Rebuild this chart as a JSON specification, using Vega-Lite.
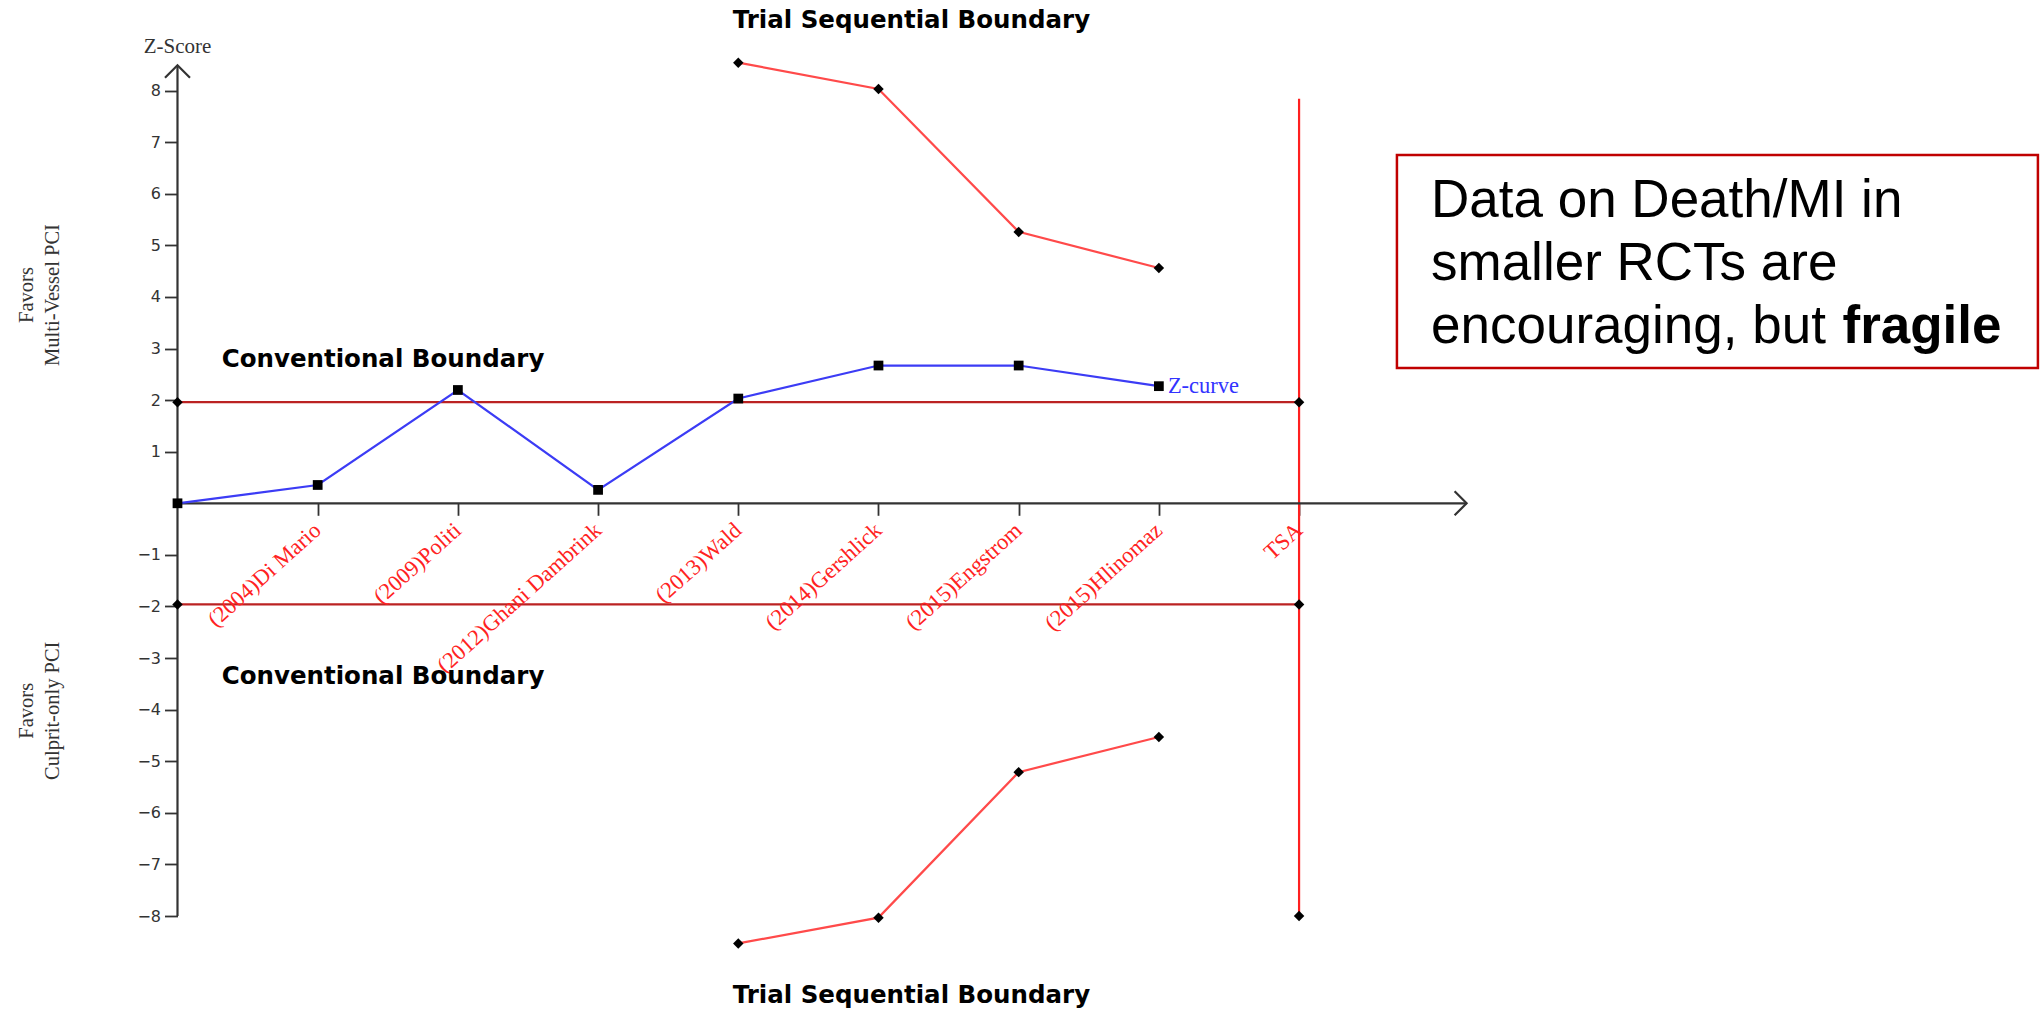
{
  "$schema": "https://vega.github.io/schema/vega-lite/v6.json",
  "width": 2041,
  "height": 1010,
  "autosize": {"type": "none"},
  "padding": 0,
  "background": "white",
  "config": {"view": {"stroke": null}},
  "datasets": {
    "zcurve": [
      {"idx": 0, "z": 0},
      {"idx": 1, "z": 0.355},
      {"idx": 2, "z": 2.196},
      {"idx": 3, "z": 0.26},
      {"idx": 4, "z": 2.03},
      {"idx": 5, "z": 2.67},
      {"idx": 6, "z": 2.67},
      {"idx": 7, "z": 2.27}
    ],
    "studies": [
      {"idx": 1, "study": "(2004)Di Mario"},
      {"idx": 2, "study": "(2009)Politi"},
      {"idx": 3, "study": "(2012)Ghani Dambrink"},
      {"idx": 4, "study": "(2013)Wald"},
      {"idx": 5, "study": "(2014)Gershlick"},
      {"idx": 6, "study": "(2015)Engstrom"},
      {"idx": 7, "study": "(2015)Hlinomaz"},
      {"idx": 8, "study": "TSA"}
    ],
    "conventional": [
      {"idx": 0, "z": 1.96, "bound": "upper"},
      {"idx": 8, "z": 1.96, "bound": "upper"},
      {"idx": 0, "z": -1.96, "bound": "lower"},
      {"idx": 8, "z": -1.96, "bound": "lower"}
    ],
    "tsb": [
      {"idx": 4, "z": 8.54, "bound": "upper"},
      {"idx": 5, "z": 8.03, "bound": "upper"},
      {"idx": 6, "z": 5.26, "bound": "upper"},
      {"idx": 7, "z": 4.56, "bound": "upper"},
      {"idx": 4, "z": -8.53, "bound": "lower"},
      {"idx": 5, "z": -8.03, "bound": "lower"},
      {"idx": 6, "z": -5.21, "bound": "lower"},
      {"idx": 7, "z": -4.53, "bound": "lower"}
    ],
    "tsa": [
      {"idx": 8, "z": -8, "z2": 7.84}
    ],
    "one": [{"n": 1}]
  },
  "layer": [
    {
      "data": {"name": "conventional"},
      "mark": {"type": "line", "color": "#bb2222", "strokeWidth": 2.2},
      "encoding": {
        "x": {
          "field": "idx", "type": "quantitative",
          "scale": {"domain": [-1.266, 13.292], "nice": false, "zero": false},
          "axis": {
            "values": [1, 2, 3, 4, 5, 6, 7, 8],
            "labels": false, "domain": false, "grid": false, "title": null,
            "tickSize": 12, "tickColor": "#333333", "tickWidth": 1.8,
            "offset": -506.7
          }
        },
        "y": {
          "field": "z", "type": "quantitative",
          "scale": {"domain": [-9.82, 9.754], "nice": false, "zero": false},
          "axis": {
            "values": [-8, -7, -6, -5, -4, -3, -2, -1, 1, 2, 3, 4, 5, 6, 7, 8],
            "domain": false, "grid": false, "title": null,
            "tickSize": 13, "tickColor": "#333333", "tickWidth": 1.8,
            "labelFont": "DejaVu Sans", "labelFontSize": 16, "labelColor": "#333333",
            "labelPadding": 4,
            "offset": -177.5
          }
        },
        "detail": {"field": "bound"}
      }
    },
    {
      "data": {"name": "tsb"},
      "mark": {"type": "line", "color": "#ff4a4a", "strokeWidth": 2.2},
      "encoding": {
        "x": {"field": "idx", "type": "quantitative"},
        "y": {"field": "z", "type": "quantitative"},
        "detail": {"field": "bound"}
      }
    },
    {
      "data": {"name": "tsa"},
      "mark": {"type": "rule", "color": "#ff1f1f", "strokeWidth": 2.2},
      "encoding": {
        "x": {"field": "idx", "type": "quantitative"},
        "y": {"field": "z", "type": "quantitative"},
        "y2": {"field": "z2"}
      }
    },
    {
      "data": {"name": "one"},
      "mark": {"type": "rule", "color": "#333333", "strokeWidth": 2.2},
      "encoding": {
        "x": {"datum": 0, "type": "quantitative"},
        "y": {"datum": -8, "type": "quantitative"},
        "y2": {"datum": 8.49}
      }
    },
    {
      "data": {"name": "one"},
      "mark": {"type": "rule", "color": "#333333", "strokeWidth": 2.2},
      "encoding": {
        "x": {"datum": 0, "type": "quantitative"},
        "x2": {"datum": 9.195},
        "y": {"datum": 0, "type": "quantitative"}
      }
    },
    {
      "data": {"name": "one"},
      "mark": {"type": "point", "shape": "M-1,1L0,0L1,1", "size": 625, "filled": false, "color": "#333333", "strokeWidth": 2.2, "opacity": 1},
      "encoding": {
        "x": {"datum": 0, "type": "quantitative"},
        "y": {"datum": 8.49, "type": "quantitative"}
      }
    },
    {
      "data": {"name": "one"},
      "mark": {"type": "point", "shape": "M-1,-1L0,0L-1,1", "size": 576, "filled": false, "color": "#333333", "strokeWidth": 2.2, "opacity": 1},
      "encoding": {
        "x": {"datum": 9.195, "type": "quantitative"},
        "y": {"datum": 0, "type": "quantitative"}
      }
    },
    {
      "data": {"name": "zcurve"},
      "mark": {"type": "line", "color": "#3c3cf5", "strokeWidth": 2.2},
      "encoding": {
        "x": {"field": "idx", "type": "quantitative"},
        "y": {"field": "z", "type": "quantitative"}
      }
    },
    {
      "data": {"name": "zcurve"},
      "mark": {"type": "point", "shape": "square", "size": 95, "filled": true, "color": "black", "opacity": 1},
      "encoding": {
        "x": {"field": "idx", "type": "quantitative"},
        "y": {"field": "z", "type": "quantitative"}
      }
    },
    {
      "data": {"name": "conventional"},
      "mark": {"type": "point", "shape": "diamond", "size": 110, "filled": true, "color": "black", "opacity": 1},
      "encoding": {
        "x": {"field": "idx", "type": "quantitative"},
        "y": {"field": "z", "type": "quantitative"}
      }
    },
    {
      "data": {"name": "tsb"},
      "mark": {"type": "point", "shape": "diamond", "size": 110, "filled": true, "color": "black", "opacity": 1},
      "encoding": {
        "x": {"field": "idx", "type": "quantitative"},
        "y": {"field": "z", "type": "quantitative"}
      }
    },
    {
      "data": {"name": "tsa"},
      "mark": {"type": "point", "shape": "diamond", "size": 110, "filled": true, "color": "black", "opacity": 1},
      "encoding": {
        "x": {"field": "idx", "type": "quantitative"},
        "y": {"field": "z", "type": "quantitative"}
      }
    },
    {
      "data": {"name": "studies"},
      "mark": {"type": "text", "angle": 318, "align": "right", "baseline": "middle", "font": "Liberation Serif", "fontSize": 22.5, "color": "#ff2222"},
      "encoding": {
        "x": {"field": "idx", "type": "quantitative"},
        "y": {"datum": -0.46, "type": "quantitative"},
        "text": {"field": "study"}
      }
    },
    {
      "data": {"name": "one"},
      "mark": {"type": "text", "text": "Z-curve", "align": "left", "baseline": "middle", "dx": 9, "font": "Liberation Serif", "fontSize": 22.5, "color": "#3333ff"},
      "encoding": {
        "x": {"datum": 7, "type": "quantitative"},
        "y": {"datum": 2.27, "type": "quantitative"}
      }
    },
    {
      "data": {"name": "one"},
      "mark": {"type": "text", "text": "Z-Score", "align": "center", "baseline": "alphabetic", "font": "Liberation Serif", "fontSize": 21, "color": "#333333"},
      "encoding": {
        "x": {"datum": 0, "type": "quantitative"},
        "y": {"datum": 8.726, "type": "quantitative"}
      }
    },
    {
      "data": {"name": "one"},
      "mark": {"type": "text", "text": "Favors", "angle": 270, "align": "center", "baseline": "middle", "font": "Liberation Serif", "fontSize": 20.5, "color": "#333333"},
      "encoding": {
        "x": {"datum": -1.073, "type": "quantitative"},
        "y": {"datum": 4.037, "type": "quantitative"}
      }
    },
    {
      "data": {"name": "one"},
      "mark": {"type": "text", "text": "Multi-Vessel PCI", "angle": 270, "align": "center", "baseline": "middle", "font": "Liberation Serif", "fontSize": 20.5, "color": "#333333"},
      "encoding": {
        "x": {"datum": -0.888, "type": "quantitative"},
        "y": {"datum": 4.037, "type": "quantitative"}
      }
    },
    {
      "data": {"name": "one"},
      "mark": {"type": "text", "text": "Favors", "angle": 270, "align": "center", "baseline": "middle", "font": "Liberation Serif", "fontSize": 20.5, "color": "#333333"},
      "encoding": {
        "x": {"datum": -1.073, "type": "quantitative"},
        "y": {"datum": -4.021, "type": "quantitative"}
      }
    },
    {
      "data": {"name": "one"},
      "mark": {"type": "text", "text": "Culprit-only PCI", "angle": 270, "align": "center", "baseline": "middle", "font": "Liberation Serif", "fontSize": 20.5, "color": "#333333"},
      "encoding": {
        "x": {"datum": -0.888, "type": "quantitative"},
        "y": {"datum": -4.021, "type": "quantitative"}
      }
    },
    {
      "data": {"name": "one"},
      "mark": {"type": "text", "text": "Trial Sequential Boundary", "align": "center", "baseline": "alphabetic", "font": "DejaVu Sans", "fontWeight": "bold", "fontSize": 24.5, "color": "black"},
      "encoding": {
        "x": {"datum": 5.235, "type": "quantitative"},
        "y": {"datum": 9.211, "type": "quantitative"}
      }
    },
    {
      "data": {"name": "one"},
      "mark": {"type": "text", "text": "Trial Sequential Boundary", "align": "center", "baseline": "alphabetic", "font": "DejaVu Sans", "fontWeight": "bold", "fontSize": 24.5, "color": "black"},
      "encoding": {
        "x": {"datum": 5.235, "type": "quantitative"},
        "y": {"datum": -9.69, "type": "quantitative"}
      }
    },
    {
      "data": {"name": "one"},
      "mark": {"type": "text", "text": "Conventional Boundary", "align": "center", "baseline": "alphabetic", "font": "DejaVu Sans", "fontWeight": "bold", "fontSize": 24.5, "color": "black"},
      "encoding": {
        "x": {"datum": 1.466, "type": "quantitative"},
        "y": {"datum": 2.641, "type": "quantitative"}
      }
    },
    {
      "data": {"name": "one"},
      "mark": {"type": "text", "text": "Conventional Boundary", "align": "center", "baseline": "alphabetic", "font": "DejaVu Sans", "fontWeight": "bold", "fontSize": 24.5, "color": "black"},
      "encoding": {
        "x": {"datum": 1.466, "type": "quantitative"},
        "y": {"datum": -3.502, "type": "quantitative"}
      }
    },
    {
      "data": {"name": "one"},
      "mark": {"type": "rect", "fill": "white", "fillOpacity": 0, "stroke": "#c00000", "strokeWidth": 2.5},
      "encoding": {
        "x": {"datum": 8.698, "type": "quantitative"},
        "x2": {"datum": 13.27},
        "y": {"datum": 6.75, "type": "quantitative"},
        "y2": {"datum": 2.622}
      }
    },
    {
      "data": {"name": "one"},
      "mark": {"type": "text", "text": "Data on Death/MI in", "align": "left", "baseline": "alphabetic", "font": "Liberation Sans", "fontSize": 53, "color": "black"},
      "encoding": {
        "x": {"datum": 8.941, "type": "quantitative"},
        "y": {"datum": 5.549, "type": "quantitative"}
      }
    },
    {
      "data": {"name": "one"},
      "mark": {"type": "text", "text": "smaller RCTs are", "align": "left", "baseline": "alphabetic", "font": "Liberation Sans", "fontSize": 53, "color": "black"},
      "encoding": {
        "x": {"datum": 8.941, "type": "quantitative"},
        "y": {"datum": 4.328, "type": "quantitative"}
      }
    },
    {
      "data": {"name": "one"},
      "mark": {"type": "text", "text": "encouraging, but", "align": "left", "baseline": "alphabetic", "font": "Liberation Sans", "fontSize": 53, "color": "black"},
      "encoding": {
        "x": {"datum": 8.941, "type": "quantitative"},
        "y": {"datum": 3.107, "type": "quantitative"}
      }
    },
    {
      "data": {"name": "one"},
      "mark": {"type": "text", "text": "fragile", "align": "left", "baseline": "alphabetic", "font": "Liberation Sans", "fontWeight": "bold", "fontSize": 53, "color": "black"},
      "encoding": {
        "x": {"datum": 11.876, "type": "quantitative"},
        "y": {"datum": 3.107, "type": "quantitative"}
      }
    }
  ]
}
